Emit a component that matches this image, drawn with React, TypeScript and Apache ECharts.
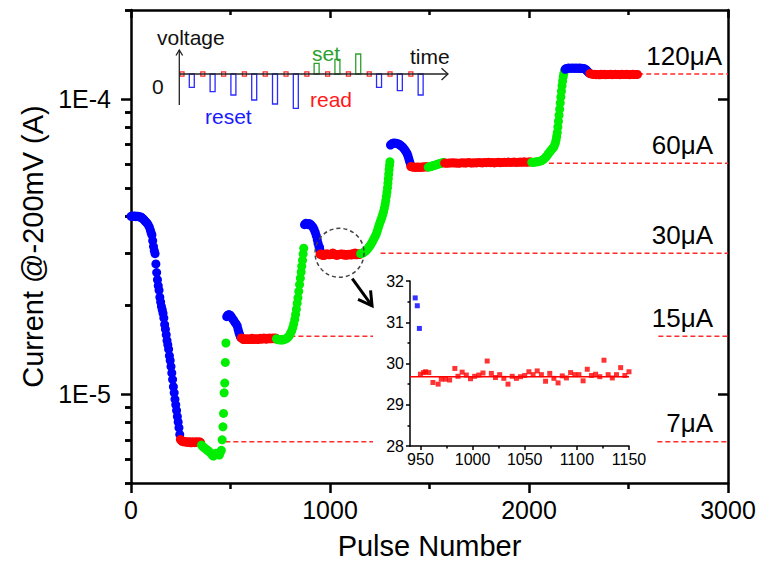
import React, { useEffect, useRef } from "react";
import * as echarts from "echarts";

const FONT = '"Liberation Sans", Arial, Helvetica, sans-serif';

// ---------- main data: [pulse number, current in μA] ----------
const reset1 = [
  [0, 40.0], [5, 40.1], [10, 40.0], [15, 40.0], [20, 40.1], [25, 39.9], [30, 40.0], [35, 40.0], [40, 39.9],
  [45, 39.8], [50, 39.8], [55, 39.5], [60, 39.3], [65, 39.0], [70, 38.6], [75, 38.3], [80, 38.0], [86, 37.5],
  [92, 36.8], [97, 36.0], [101, 35.2], [105, 34.6], [109, 33.1], [113, 31.6], [117, 30.6], [121, 29.9],
  [125, 27.6], [129, 25.8], [133, 24.4], [137, 23.3], [141, 22.5], [145, 21.3], [149, 20.5], [153, 19.8],
  [157, 19.3], [161, 18.8], [165, 18.1], [169, 17.2], [173, 16.6], [177, 15.9], [181, 15.2], [185, 14.7],
  [189, 14.2], [193, 13.5], [197, 13.0], [201, 12.4], [205, 11.8], [209, 11.2], [213, 10.6], [217, 10.1],
  [221, 9.6], [225, 9.2], [229, 8.8], [233, 8.4], [237, 8.05], [241, 7.7], [245, 7.3],
];
const read1 = [
  [248, 7.02], [254, 6.95], [260, 6.9], [266, 6.92], [272, 6.88], [278, 6.9], [284, 6.86], [290, 6.9],
  [296, 6.88], [302, 6.84], [308, 6.9], [314, 6.87], [320, 6.85], [326, 6.9], [332, 6.88], [338, 6.86],
  [344, 6.9], [350, 6.85],
];
const set1 = [
  [354, 6.72], [360, 6.65], [366, 6.6], [372, 6.55], [378, 6.5], [384, 6.45], [390, 6.42], [396, 6.35],
  [402, 6.3], [408, 6.22], [414, 6.17], [420, 6.22], [426, 6.3], [432, 6.26], [438, 6.3], [444, 6.22],
  [449, 6.35], [454, 6.45], [458, 7.0], [462, 7.75], [465, 8.6], [468, 10.1], [471, 10.9], [474, 12.8],
  [477, 14.9],
];
const reset2 = [
  [481, 18.3], [486, 18.5], [492, 18.6], [498, 18.5], [504, 18.3], [510, 18.0], [516, 17.8], [522, 17.5],
  [528, 17.3], [534, 17.0], [538, 16.6], [542, 16.2], [546, 15.9], [550, 15.6],
];
const read2 = [
  [554, 15.5], [560, 15.4], [566, 15.3], [572, 15.4], [578, 15.3], [584, 15.4], [590, 15.35], [596, 15.3],
  [602, 15.4], [608, 15.45], [614, 15.3], [620, 15.4], [626, 15.35], [632, 15.4], [638, 15.3], [644, 15.4],
  [650, 15.45], [656, 15.35], [662, 15.4], [668, 15.5], [674, 15.4], [680, 15.35], [686, 15.45], [692, 15.4],
  [698, 15.5], [704, 15.4], [710, 15.45], [716, 15.5], [722, 15.4], [727, 15.5],
];
const set2 = [
  [731, 15.4], [737, 15.3], [743, 15.3], [749, 15.25], [755, 15.3], [761, 15.25], [767, 15.3], [773, 15.35],
  [779, 15.4], [785, 15.5], [790, 15.6], [796, 15.8], [802, 16.1], [808, 16.4], [813, 16.8], [818, 17.3],
  [823, 17.9], [827, 18.6], [831, 19.4], [835, 20.3], [839, 21.2], [843, 22.3], [847, 23.5], [851, 24.7],
  [855, 25.9], [858, 27.1], [862, 28.4], [865, 29.8], [868, 31.2],
];
// inset data (pulse 940-1150)
const insetReset = [[945, 31.59], [947, 31.4], [949, 30.85]];
const insetRead = [
  [950, 29.74], [953, 29.78], [955, 29.8], [958, 29.78], [962, 29.54], [967, 29.5], [970, 29.62], [974, 29.62],
  [978, 29.6], [983, 29.88], [986, 29.69], [990, 29.79], [994, 29.72], [998, 29.63], [1002, 29.69], [1006, 29.72],
  [1010, 29.77], [1014, 30.06], [1018, 29.76], [1022, 29.66], [1026, 29.73], [1030, 29.64], [1034, 29.5],
  [1038, 29.69], [1042, 29.64], [1046, 29.68], [1050, 29.71], [1054, 29.8], [1058, 29.73], [1062, 29.82],
  [1066, 29.73], [1070, 29.57], [1074, 29.76], [1078, 29.64], [1082, 29.53], [1086, 29.7], [1090, 29.65],
  [1094, 29.78], [1098, 29.73], [1102, 29.73], [1106, 29.58], [1110, 29.86], [1114, 29.71], [1118, 29.74],
  [1122, 29.68], [1126, 30.08], [1130, 29.73], [1134, 29.65], [1138, 29.73], [1142, 29.9], [1146, 29.71],
  [1150, 29.8],
];
const insetFitLevel = 29.68;
const insetXRange = [940, 1150];
const insetYRange = [28, 32];
const insetXTicks = [950, 1000, 1050, 1100, 1150];
const insetXMinorTicks = [975, 1025, 1075, 1125];

const reset3Head = [
  [872, 37.5], [878, 37.9], [884, 37.8], [890, 37.5], [896, 37.8], [902, 37.6], [908, 37.2], [914, 36.8],
  [920, 36.1], [926, 35.3], [931, 34.4], [936, 33.3], [940, 32.4],
];
const reset3 = [...reset3Head, ...insetReset];
const read3 = insetRead;
const set3 = [
  [1154, 29.9], [1160, 30.0], [1166, 30.1], [1172, 30.3], [1178, 30.5], [1184, 30.8], [1190, 31.1],
  [1196, 31.5], [1202, 31.9], [1208, 32.4], [1214, 32.9], [1220, 33.5], [1226, 34.1], [1232, 34.8],
  [1237, 35.6], [1242, 36.5], [1247, 37.4], [1252, 38.3], [1257, 39.0], [1261, 39.8], [1265, 40.6],
  [1269, 41.5], [1273, 42.6], [1277, 43.9], [1280, 45.2], [1283, 46.7], [1286, 48.3], [1289, 50.0],
  [1291, 51.8], [1293, 53.6], [1295, 55.5], [1297, 57.5], [1299, 59.5], [1301, 61.3],
];
const reset4 = [
  [1304, 69.8], [1310, 70.4], [1316, 70.8], [1322, 70.9], [1328, 70.8], [1334, 70.7], [1340, 70.5],
  [1346, 70.2], [1352, 69.8], [1358, 69.3], [1364, 68.8], [1370, 68.0], [1376, 67.2], [1382, 66.2],
  [1388, 65.2], [1392, 64.0], [1396, 62.7], [1400, 61.4], [1404, 60.2],
];
const read4 = [
  [1406, 59.0], [1412, 58.8], [1418, 58.7], [1424, 58.8], [1430, 58.6], [1436, 58.7], [1442, 58.8],
  [1448, 58.7], [1454, 58.6], [1460, 58.8], [1466, 58.7], [1472, 58.8], [1478, 58.9], [1484, 58.8],
  [1490, 58.9],
];
const set4a = [
  [1494, 58.7], [1500, 58.9], [1506, 59.0], [1512, 59.2], [1518, 59.4], [1524, 59.5], [1530, 59.7],
  [1536, 59.9], [1542, 60.1], [1548, 60.3], [1554, 60.4], [1560, 60.6], [1566, 60.8], [1572, 60.9],
];
const read5 = [
  [1576, 60.6], [1586, 60.5], [1596, 60.7], [1606, 60.6], [1616, 60.8], [1626, 60.6], [1636, 60.7],
  [1646, 60.5], [1656, 60.7], [1666, 60.8], [1676, 60.6], [1686, 60.7], [1696, 60.9], [1706, 60.7],
  [1716, 60.6], [1726, 60.8], [1736, 60.7], [1746, 60.9], [1756, 60.8], [1766, 60.7], [1776, 60.9],
  [1786, 60.8], [1796, 61.0], [1806, 60.8], [1816, 60.9], [1826, 60.7], [1836, 60.9], [1846, 61.0],
  [1856, 60.8], [1866, 60.9], [1876, 61.0], [1886, 60.9], [1896, 61.1], [1906, 60.9], [1916, 61.0],
  [1926, 61.1], [1936, 60.9], [1946, 61.0], [1956, 61.1], [1966, 61.0], [1976, 61.2], [1986, 61.0],
  [1996, 61.1], [2006, 61.2],
];
const set4b = [
  [2014, 61.0], [2022, 61.0], [2030, 61.1], [2038, 61.2], [2046, 61.3], [2054, 61.5], [2062, 61.7],
  [2070, 62.2], [2078, 62.8], [2085, 63.6], [2092, 64.4], [2098, 65.3], [2104, 66.1], [2110, 66.9],
  [2116, 67.6], [2122, 68.3], [2127, 69.3], [2132, 70.8], [2136, 72.6], [2139, 74.6], [2142, 77.0],
  [2145, 80.3], [2148, 84.0], [2151, 88.0], [2154, 92.3], [2157, 96.8], [2160, 101.5], [2163, 106.2],
  [2166, 110.8], [2169, 115.0], [2172, 118.8], [2175, 122.0], [2178, 124.5],
];
const reset5 = [
  [2182, 126.0], [2188, 126.8], [2194, 127.1], [2200, 127.2], [2206, 127.0], [2212, 127.1], [2218, 127.3],
  [2224, 127.1], [2230, 127.0], [2236, 127.2], [2242, 127.1], [2248, 127.0], [2254, 127.2], [2260, 126.9],
  [2266, 127.0], [2272, 126.8], [2278, 126.5], [2284, 125.9], [2289, 125.0], [2294, 124.0], [2299, 123.0],
  [2303, 122.3],
];
const read6 = [
  [2306, 121.8], [2314, 121.3], [2322, 121.0], [2330, 121.2], [2338, 120.8], [2346, 121.0], [2354, 120.7],
  [2362, 121.1], [2370, 120.9], [2378, 121.2], [2386, 120.8], [2394, 121.0], [2402, 120.9], [2410, 121.1],
  [2418, 120.8], [2426, 121.0], [2434, 121.2], [2442, 120.9], [2450, 121.0], [2458, 120.8], [2466, 121.1],
  [2474, 121.0], [2482, 120.9], [2490, 121.1], [2498, 121.0], [2506, 120.8], [2514, 121.0], [2522, 121.1],
  [2530, 120.9], [2538, 121.0], [2545, 121.0],
];

const segments: [string, number[][]][] = [
  ["reset", reset1], ["read", read1], ["set", set1],
  ["reset", reset2], ["read", read2], ["set", set2],
  ["reset", reset3], ["read", read3], ["set", set3],
  ["reset", reset4], ["read", read4], ["set", set4a],
  ["read", read5], ["set", set4b], ["reset", reset5], ["read", read6],
];

// compliance reference levels (μA), where the dashed line starts (pulse), and labels
const levelValues = [121.4, 60.5, 30.0, 15.7, 6.9];
const levelStarts = [2549, 2100, 1254, 801, 474];
const levelLabels = ["120μA", "60μA", "30μA", "15μA", "7μA"];

// axes
const xRange = [0, 3000];
const xInterval = 1000;
const yRange = [5e-6, 2e-4];
const yMajorTicks = [1e-5, 1e-4];
const yMinorTicks = [5e-6, 6e-6, 7e-6, 8e-6, 9e-6, 2e-5, 3e-5, 4e-5, 5e-5, 6e-5, 7e-5, 8e-5, 9e-5, 2e-4];

// schematic pulse train: read pulses in every slot, write pulse amplitudes (negative = reset)
const schemReadSlots = [0, 1, 2, 3, 4, 5, 6, 7, 8, 9, 10, 11];
const schemReadAmp = 0.22;
const schemWriteAmps = [-1.33, -1.77, -2.1, -2.6, -3.0, -3.43, 1.07, 1.47, 2.0, -1.33, -1.67, -2.1];
const schemTimeRange = [-0.05, 12.88];
const schemAmpRange = [-4, 3];

// zoom circle location (pulse, current μA)
const zoomCenter = [1048, 30.1];

const COLORS: Record<string, string> = { reset: "#0000ff", read: "#ff0000", set: "#00ee00" };

const uA = (d: number[][]) => d.map(([p, v]) => [p, v * 1e-6]);

function buildOption(): any {
  const axisBlack = { color: "#000", width: 2.5 };
  const mainSeries = segments.map(([kind, d]) => ({
    type: "scatter",
    xAxisIndex: 0,
    yAxisIndex: 0,
    data: uA(d),
    symbol: "circle",
    symbolSize: 9,
    itemStyle: { color: COLORS[kind], opacity: 1 },
    emphasis: { disabled: true },
    silent: true,
    z: 3,
  }));
  const levelSeries = levelValues.map((v, i) => ({
    type: "line",
    xAxisIndex: 0,
    yAxisIndex: 0,
    data: [[levelStarts[i], v * 1e-6], [xRange[1], v * 1e-6]],
    symbol: "none",
    showSymbol: false,
    lineStyle: { color: "#ff2a2a", width: 1.6, type: [5, 3] },
    silent: true,
    z: 2,
  }));

  const rectItem = (color: string, w: number) => (params: any, api: any) => {
    const t = api.value(0);
    const lo = api.value(1);
    const hi = api.value(2);
    const a = api.coord([t, hi]);
    const b = api.coord([t + w, lo]);
    return {
      type: "rect",
      shape: { x: a[0], y: a[1], width: b[0] - a[0], height: b[1] - a[1] },
      style: { fill: "none", stroke: color, lineWidth: 1.3 },
    };
  };
  const writeOffset = 0.445;
  const schemReadData = schemReadSlots.map((k) => [k, -schemReadAmp, schemReadAmp]);
  const schemResetData = schemWriteAmps
    .map((a, k) => [k + writeOffset, Math.min(0, a), Math.max(0, a)])
    .filter((d) => d[1] < 0);
  const schemSetData = schemWriteAmps
    .map((a, k) => [k + writeOffset, Math.min(0, a), Math.max(0, a)])
    .filter((d) => d[2] > 0);

  const hiddenAxis = { show: false, splitLine: { show: false } };

  return {
    animation: false,
    backgroundColor: "#fff",
    textStyle: { fontFamily: FONT },
    grid: [
      { left: 131, top: 10, width: 597, height: 473, outerBoundsMode: "none", containLabel: false },
      { left: 410, top: 281, width: 219, height: 165, outerBoundsMode: "none", containLabel: false },
      { left: 179, top: 44, width: 269, height: 70, outerBoundsMode: "none", containLabel: false },
    ],
    xAxis: [
      {
        gridIndex: 0, type: "value", position: "bottom", min: xRange[0], max: xRange[1], interval: xInterval,
        axisLine: { show: true, onZero: false, lineStyle: axisBlack },
        axisTick: { show: true, inside: false, length: 10, lineStyle: axisBlack },
        minorTick: { show: true, splitNumber: 2, length: 6, lineStyle: axisBlack },
        axisLabel: { show: true, fontSize: 25, color: "#000", margin: 14, fontFamily: FONT, formatter: (v: number) => String(v) },
        splitLine: { show: false }, minorSplitLine: { show: false },
        name: "Pulse Number", nameLocation: "middle", nameGap: 48,
        nameTextStyle: { fontSize: 29, color: "#000", fontFamily: FONT },
      },
      {
        gridIndex: 0, type: "value", position: "top", min: xRange[0], max: xRange[1], interval: xInterval,
        axisLine: { show: true, onZero: false, lineStyle: axisBlack },
        axisTick: { show: true, inside: true, length: 8, lineStyle: axisBlack },
        minorTick: { show: true, splitNumber: 2, length: 5, lineStyle: axisBlack },
        axisLabel: { show: false }, splitLine: { show: false },
      },
      {
        gridIndex: 1, type: "value", position: "bottom", min: insetXRange[0], max: insetXRange[1], z: 110,
        axisLine: { show: true, onZero: false, lineStyle: { color: "#000", width: 1.5 } },
        axisTick: { show: true, length: 4, customValues: insetXTicks, lineStyle: { color: "#000", width: 1.5 } },
        axisLabel: { show: true, customValues: insetXTicks, fontSize: 16, color: "#000", margin: 5, fontFamily: FONT, formatter: (v: number) => String(v) },
        splitLine: { show: false },
      },
      {
        gridIndex: 1, type: "value", position: "bottom", min: insetXRange[0], max: insetXRange[1], z: 110,
        axisLine: { show: false },
        axisTick: { show: true, length: 2.5, customValues: insetXMinorTicks, lineStyle: { color: "#000", width: 1.5 } },
        axisLabel: { show: false }, splitLine: { show: false },
      },
      { gridIndex: 2, type: "value", min: schemTimeRange[0], max: schemTimeRange[1], ...hiddenAxis },
    ],
    yAxis: [
      {
        gridIndex: 0, type: "log", logBase: 10, position: "left", min: yRange[0], max: yRange[1],
        axisLine: { show: true, onZero: false, lineStyle: axisBlack },
        axisTick: { show: true, inside: false, length: 10, customValues: yMajorTicks, lineStyle: axisBlack },
        axisLabel: {
          show: true, customValues: yMajorTicks, fontSize: 25, color: "#000", margin: 20, fontFamily: FONT,
          formatter: (v: number) => "1E" + Math.round(Math.log10(v)),
        },
        splitLine: { show: false },
        name: "Current @-200mV (A)", nameLocation: "middle", nameGap: 78, nameRotate: 90,
        nameTextStyle: { fontSize: 29, color: "#000", fontFamily: FONT },
      },
      {
        gridIndex: 0, type: "log", logBase: 10, position: "left", min: yRange[0], max: yRange[1],
        axisLine: { show: false },
        axisTick: { show: true, inside: false, length: 6, customValues: yMinorTicks, lineStyle: axisBlack },
        axisLabel: { show: false }, splitLine: { show: false },
      },
      {
        gridIndex: 0, type: "log", logBase: 10, position: "right", min: yRange[0], max: yRange[1],
        axisLine: { show: true, onZero: false, lineStyle: axisBlack },
        axisTick: { show: true, inside: true, length: 10, customValues: yMajorTicks, lineStyle: axisBlack },
        axisLabel: { show: false }, splitLine: { show: false },
      },
      {
        gridIndex: 0, type: "log", logBase: 10, position: "right", min: yRange[0], max: yRange[1],
        axisLine: { show: false },
        axisTick: { show: true, inside: true, length: 6, customValues: yMinorTicks, lineStyle: axisBlack },
        axisLabel: { show: false }, splitLine: { show: false },
      },
      {
        gridIndex: 1, type: "value", position: "left", min: insetYRange[0], max: insetYRange[1], interval: 1, z: 110,
        axisLine: { show: true, onZero: false, lineStyle: { color: "#000", width: 1.5 } },
        axisTick: { show: true, length: 4, lineStyle: { color: "#000", width: 1.5 } },
        minorTick: { show: true, splitNumber: 2, length: 2.5, lineStyle: { color: "#000", width: 1.5 } },
        axisLabel: { show: true, fontSize: 16, color: "#000", margin: 6, fontFamily: FONT },
        splitLine: { show: false }, minorSplitLine: { show: false },
      },
      { gridIndex: 2, type: "value", min: schemAmpRange[0], max: schemAmpRange[1], ...hiddenAxis },
    ],
    series: [
      ...levelSeries,
      ...mainSeries,
      {
        type: "line", xAxisIndex: 2, yAxisIndex: 4,
        data: [[insetXRange[0], insetFitLevel], [insetXRange[1], insetFitLevel]],
        symbol: "none", showSymbol: false, lineStyle: { color: "#ff0000", width: 1.6 }, silent: true, z: 110,
      },
      {
        type: "scatter", xAxisIndex: 2, yAxisIndex: 4, data: insetRead, symbol: "rect", symbolSize: 5,
        itemStyle: { color: "#ff0000" }, emphasis: { disabled: true }, silent: true, z: 111,
      },
      {
        type: "scatter", xAxisIndex: 2, yAxisIndex: 4, data: insetReset, symbol: "rect", symbolSize: 5,
        itemStyle: { color: "#0000ff" }, emphasis: { disabled: true }, silent: true, z: 111,
      },
      {
        type: "custom", xAxisIndex: 4, yAxisIndex: 5, data: schemReadData, renderItem: rectItem("#ff2a2a", 0.19),
        silent: true, z: 120, clip: false,
      },
      {
        type: "custom", xAxisIndex: 4, yAxisIndex: 5, data: schemResetData, renderItem: rectItem("#2a2aff", 0.24),
        silent: true, z: 120, clip: false,
      },
      {
        type: "custom", xAxisIndex: 4, yAxisIndex: 5, data: schemSetData, renderItem: rectItem("#2ca02c", 0.24),
        silent: true, z: 120, clip: false,
      },
    ],
  };
}

function buildGraphic(chart: any): any[] {
  const main = (x: number, y: number) => chart.convertToPixel({ xAxisIndex: 0, yAxisIndex: 0 }, [x, y]);
  const inset = (x: number, y: number) => chart.convertToPixel({ xAxisIndex: 2, yAxisIndex: 4 }, [x, y]);
  const schem = (x: number, y: number) => chart.convertToPixel({ xAxisIndex: 4, yAxisIndex: 5 }, [x, y]);
  const els: any[] = [];

  // white panel behind the inset
  const i0 = inset(insetXRange[0], insetYRange[1]);
  const i1 = inset(insetXRange[1], insetYRange[0]);
  els.push({
    type: "rect", z: 100, silent: true,
    shape: { x: i0[0] - 37, y: i0[1] - 16, width: i1[0] - i0[0] + 65, height: i1[1] - i0[1] + 48 },
    style: { fill: "#fff" },
  });

  // zoom circle + arrow
  const c = main(zoomCenter[0], zoomCenter[1] * 1e-6);
  els.push({
    type: "circle", z: 120, silent: true,
    shape: { cx: c[0], cy: c[1], r: 24.5 },
    style: { fill: "none", stroke: "#444", lineWidth: 1.5, lineDash: [4, 3] },
  });
  const tip = [c[0] + 32.5, c[1] + 53];
  els.push({
    type: "line", z: 120, silent: true,
    shape: { x1: c[0] + 12.7, y1: c[1] + 25.8, x2: tip[0], y2: tip[1] },
    style: { stroke: "#000", lineWidth: 3 },
  });
  els.push({
    type: "polyline", z: 120, silent: true,
    shape: { points: [[tip[0] - 14, tip[1] - 6.5], tip, [tip[0] - 1.5, tip[1] - 15.5]] },
    style: { stroke: "#000", lineWidth: 3, fill: "none" },
  });

  // level labels
  levelValues.forEach((v, i) => {
    const p = main(xRange[1], v * 1e-6);
    els.push({
      type: "text", z: 120, silent: true,
      x: p[0] - (i === 0 ? 6 : 15), y: p[1] - 18.5,
      style: { text: levelLabels[i], fontSize: 26, fontFamily: FONT, fill: "#000", align: "right", verticalAlign: "middle" },
    });
  });

  // schematic axes
  const o = schem(schemTimeRange[0], 0);
  const e = schem(schemTimeRange[1], 0);
  const stroke = { stroke: "#222", lineWidth: 1.3, fill: "none" };
  els.push({ type: "line", z: 120, silent: true, shape: { x1: o[0] + 0.3, y1: o[1] - 24, x2: o[0] + 0.3, y2: o[1] + 31 }, style: stroke });
  els.push({ type: "polyline", z: 120, silent: true, shape: { points: [[o[0] - 3, o[1] - 18.5], [o[0] + 0.3, o[1] - 24], [o[0] + 3.6, o[1] - 18.5]] }, style: stroke });
  els.push({ type: "line", z: 120, silent: true, shape: { x1: o[0], y1: o[1], x2: e[0], y2: e[1] }, style: stroke });
  els.push({ type: "polyline", z: 120, silent: true, shape: { points: [[e[0] - 6.5, e[1] - 5.8], [e[0], e[1]], [e[0] - 6.5, e[1] + 6]] }, style: stroke });

  const schemText = (text: string, dx: number, dy: number, fill: string) =>
    els.push({
      type: "text", z: 120, silent: true, x: o[0] + dx, y: o[1] + dy,
      style: { text, fontSize: 21, fontFamily: FONT, fill, align: "left", verticalAlign: "middle" },
    });
  schemText("voltage", -22, -37, "#111");
  schemText("time", 231, -18, "#111");
  schemText("0", -27, 12, "#111");
  schemText("set", 133, -21, "#2ca02c");
  schemText("read", 131, 25.5, "#ff1a1a");
  schemText("reset", 26, 42, "#1a1aff");
  return els;
}

export default function App() {
  const ref = useRef<HTMLDivElement>(null);
  useEffect(() => {
    if (!ref.current) return;
    const chart = echarts.init(ref.current, null, { renderer: "svg" });
    chart.setOption(buildOption());
    chart.setOption({ graphic: { elements: buildGraphic(chart) } });
    return () => chart.dispose();
  }, []);
  return (
    <div
      ref={ref}
      style={{ position: "fixed", left: 0, top: 0, width: 759, height: 573, background: "#fff" }}
    />
  );
}
